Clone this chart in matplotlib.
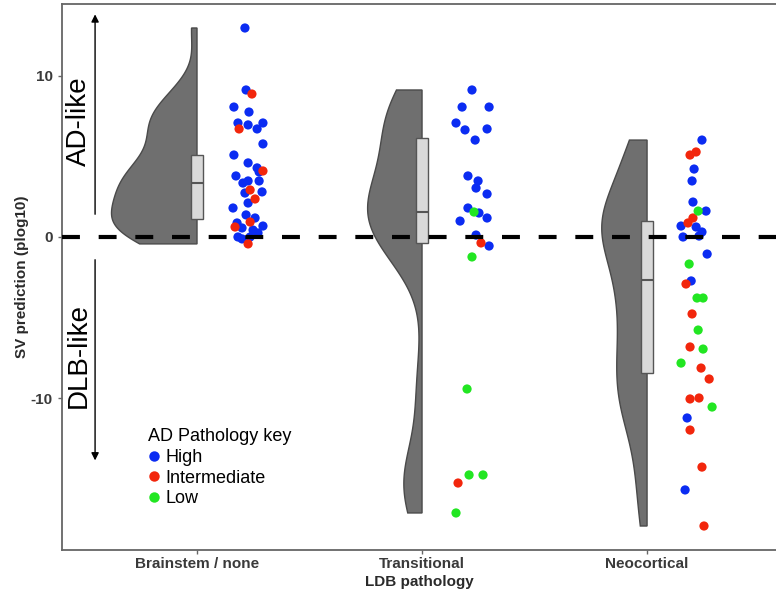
import numpy as np
import matplotlib
matplotlib.use("Agg")
import matplotlib.pyplot as plt
from matplotlib.lines import Line2D

plt.rcParams['font.family'] = ['Liberation Sans', 'DejaVu Sans']

# categories on the x axis
groups = ["Brainstem / none", "Transitional", "Neocortical"]

# SV prediction values per group
brain_y = [12.98, 9.13, 8.88, 8.07, 7.76, 7.08, 6.96, 7.08, 6.71, 6.71, 5.78, 5.09, 4.60,
           4.29, 4.10, 4.04, 3.79, 3.48, 3.35, 3.48, 2.92, 2.80, 2.73, 2.36, 2.11, 1.80,
           1.37, 1.18, 0.93, 0.87, 0.62, 0.68, 0.43, 0.56, 0.25, 0.0, -0.12, 0.0, -0.43]
brain_jit = [0.213, 0.218, 0.244, 0.164, 0.231, 0.182, 0.227, 0.293, 0.187, 0.267, 0.293,
             0.164, 0.227, 0.267, 0.293, 0.276, 0.173, 0.227, 0.204, 0.276, 0.236, 0.289,
             0.213, 0.258, 0.227, 0.160, 0.218, 0.258, 0.236, 0.178, 0.169, 0.293, 0.249,
             0.200, 0.271, 0.182, 0.200, 0.236, 0.227]
brain_key = list("BBRBBBBBRBBBBBRBBBBBRBBRBBBBRBRBBBBBBBR")

trans_y = [9.13, 8.07, 8.07, 7.08, 6.65, 6.71, 6.02, 3.79, 3.48, 3.04, 2.67, 1.80, 1.55,
           1.49, 1.18, 0.99, 0.12, -0.37, -0.56, -1.24, -9.44, -14.78, -14.78, -15.28, -17.14]
trans_jit = [0.222, 0.178, 0.298, 0.151, 0.191, 0.289, 0.236, 0.204, 0.249, 0.240, 0.289,
             0.204, 0.231, 0.253, 0.289, 0.169, 0.240, 0.262, 0.298, 0.222, 0.200, 0.209,
             0.271, 0.160, 0.151]
trans_key = list("BBBBBBBBBBBBGBBBBRBGGGGRG")

neo_y = [6.02, 5.28, 5.09, 4.22, 3.48, 2.17, 1.61, 1.61, 1.18, 0.87, 0.68, 0.62, 0.31, 0.0,
         0.06, -1.06, -1.68, -2.73, -2.92, -3.79, -3.79, -4.78, -5.78, -6.83, -6.96, -7.83,
         -8.14, -8.82, -10.06, -10.0, -10.56, -11.24, -11.99, -14.29, -15.71, -17.95]
neo_jit = [0.244, 0.218, 0.191, 0.209, 0.200, 0.204, 0.227, 0.262, 0.204, 0.182, 0.151,
           0.218, 0.244, 0.160, 0.231, 0.267, 0.187, 0.196, 0.173, 0.222, 0.249, 0.200,
           0.227, 0.191, 0.249, 0.151, 0.240, 0.276, 0.191, 0.231, 0.289, 0.178, 0.191,
           0.244, 0.169, 0.253]
neo_key = list("BRRBBBGBRRBBBBBBGBRGGRGRGGRRRRGBRRBR")

# box stats (q1, median, q3)
box_q1 = [1.10, -0.37, -8.45]
box_med = [3.35, 1.55, -2.70]
box_q3 = [5.10, 6.15, 1.00]

key_names = {"B": "High", "R": "Intermediate", "G": "Low"}
key_colors = {"B": "#0B2CF2", "R": "#F2260C", "G": "#22E622"}

all_y = [brain_y, trans_y, neo_y]
all_jit = [brain_jit, trans_jit, neo_jit]
all_key = [brain_key, trans_key, neo_key]
bw_adjust = [1.0, 1.0, 0.8]


def kde_nrd0(vals, grid, adjust=1.0):
    v = np.asarray(vals)
    n = len(v)
    iqr = np.subtract(*np.percentile(v, [75, 25]))
    bw = adjust * 0.9 * min(v.std(ddof=1), iqr / 1.34) * n ** -0.2
    d = np.exp(-0.5 * ((grid[:, None] - v[None, :]) / bw) ** 2).sum(axis=1)
    return d / (n * bw * np.sqrt(2 * np.pi))


fig = plt.figure(figsize=(7.76, 5.91), dpi=100)
ax = fig.add_axes([62 / 776, 41 / 591, 714 / 776, 546 / 591])

# half violins (area scaled)
dens = []
grids = []
for vals, adj in zip(all_y, bw_adjust):
    g = np.linspace(min(vals), max(vals), 200)
    grids.append(g)
    dens.append(kde_nrd0(vals, g, adj))
scale = 0.38 / max(d.max() for d in dens)
for i, (g, d) in enumerate(zip(grids, dens)):
    xs = np.concatenate([[i], i - d * scale, [i]])
    ys = np.concatenate([[g[0]], g, [g[-1]]])
    ax.fill(xs, ys, facecolor="#6F6F6F", edgecolor="#4A4A4A", lw=1.0, zorder=2)

# boxes
stats = []
for i in range(3):
    stats.append(dict(q1=box_q1[i], med=box_med[i], q3=box_q3[i],
                      whislo=box_q1[i], whishi=box_q3[i], fliers=[]))
ax.bxp(stats, positions=[0, 1, 2], widths=0.052, showcaps=False, patch_artist=True,
       boxprops=dict(facecolor="#D9D9D9", edgecolor="#555555", lw=1.0),
       medianprops=dict(color="#555555", lw=1.5),
       whiskerprops=dict(lw=0), manage_ticks=False, zorder=3)

# points
for k in ["B", "R", "G"]:
    for i in range(3):
        xs = [i + j for j, c in zip(all_jit[i], all_key[i]) if c == k]
        ys = [y for y, c in zip(all_y[i], all_key[i]) if c == k]
        ax.scatter(xs, ys, s=44, color=key_colors[k], edgecolors="none", zorder=4)

# zero line
ax.axhline(0, color="black", lw=3.0, linestyle=(0, (4.3, 4.5)), zorder=5)

# arrows and side labels
ax.annotate("", xy=(-0.453, 14.0), xytext=(-0.453, 1.24),
            arrowprops=dict(arrowstyle="-|>", color="black", lw=1.0, mutation_scale=11))
ax.annotate("", xy=(-0.453, -14.05), xytext=(-0.453, -1.24),
            arrowprops=dict(arrowstyle="-|>", color="black", lw=1.0, mutation_scale=11))
ax.text(-0.525, 7.2, "AD-like", rotation=90, ha="center", va="center", fontsize=20)
ax.text(-0.525, -7.33, "DLB-like", rotation=90, ha="center", va="center", fontsize=20)

# legend
handles = [Line2D([], [], marker="o", linestyle="none", markersize=7.5,
                  markerfacecolor=key_colors[k], markeredgecolor="none",
                  label=key_names[k]) for k in ["B", "R", "G"]]
leg = ax.legend(handles=handles, title="AD Pathology key", loc="upper left",
                bbox_to_anchor=(0.108, 0.24), frameon=False, fontsize=13,
                title_fontsize=13, handlelength=0.6, handletextpad=0.35,
                labelspacing=0.2, borderpad=0, alignment="left")
leg._legend_box.sep = 3

ax.set_xlim(-0.6, 2.573)
ax.set_ylim(-19.44, 14.47)
ax.set_xticks([0, 1, 2])
ax.set_xticklabels(groups)
ax.set_yticks([10, 0, -10])
ax.set_yticklabels(["10", "0", "-10"])
for lab in ax.get_xticklabels() + ax.get_yticklabels():
    lab.set_fontweight("bold")
    lab.set_color("#3A3A3A")
    lab.set_fontsize(11)
ax.tick_params(axis="both", color="#666666", length=3, width=1)
ax.tick_params(axis="x", pad=2)
ax.set_xlabel("LDB pathology", fontweight="bold", fontsize=11, color="#2A2A2A", labelpad=3)
ax.set_ylabel("SV prediction (plog10)", fontweight="bold", fontsize=11, color="#2A2A2A",
              labelpad=1)
ax.spines["right"].set_visible(False)
for s in ["left", "bottom", "top"]:
    ax.spines[s].set_color("#666666")
    ax.spines[s].set_linewidth(1.3)

fig.savefig("out.png", dpi=100)
